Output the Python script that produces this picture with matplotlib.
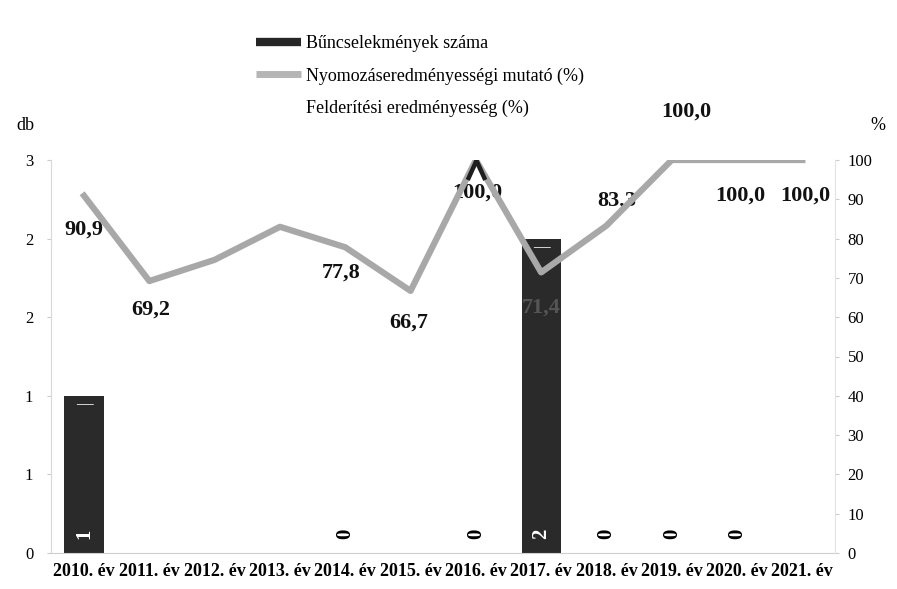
import numpy as np
import matplotlib
matplotlib.use('Agg')
import matplotlib.pyplot as plt
from matplotlib.lines import Line2D
from matplotlib.path import Path
from matplotlib.ticker import FixedLocator, FuncFormatter

# ---------------- data ----------------
years = ['2010. év', '2011. év', '2012. év', '2013. év', '2014. év', '2015. év',
         '2016. év', '2017. év', '2018. év', '2019. év', '2020. év', '2021. év']
crimes = [1, None, None, None, 0, None, 0, 2, 0, 0, 0, None]           # Bűncselekmények száma (db)
nyomozas = [90.9, 69.2, 74.6, 83.0, 77.8, 66.7, 100.0, 71.4, 83.3, 100.0, 100.0, 100.0]  # %
nyomozas_labels = ['90,9', '69,2', '', '', '77,8', '66,7', '100,0', '71,4', '83,3',
                   '100,0', '100,0', '100,0']
felderites = [None, None, None, None, None, None, 100.0, None, None, None, None, None]  # %
left_ticks = [0, 0.5, 1.0, 1.5, 2.0, 2.5]
right_ticks = [0, 10, 20, 30, 40, 50, 60, 70, 80, 90, 100]
series_names = ['Bűncselekmények száma', 'Nyomozáseredményességi mutató (%)',
                'Felderítési eredményesség (%)']

# label offsets in pixels (dx, dy) relative to the line point
label_offsets = [(0, -34), (1, -29), (0, 0), (0, 0), (-4, -25), (-2, -32), (1, -33),
                 (0, -35), (10, 25), (15, 48), (3, -36), (3, -36)]
label_colors = ['#111111'] * 7 + ['#555555'] + ['#111111'] * 4

plt.rcParams['font.family'] = ['Liberation Serif', 'DejaVu Serif']

W, H = 897, 589
fig = plt.figure(figsize=(W / 100, H / 100), dpi=100)
ax = fig.add_axes([51.4 / W, 1 - 553 / H, (835 - 51.4) / W, (553 - 160) / H])

x = np.arange(len(years))
crimes_arr = np.array([np.nan if v is None else v for v in crimes], dtype=float)
ax.bar(x, crimes_arr, width=0.6, color='#2a2a2a', zorder=2)
for i, v in enumerate(crimes):
    if v is None:
        continue
    ax.annotate(str(v), (x[i], 0), xytext=(0, 14), textcoords='offset points',
                rotation=90, ha='center', va='center', fontsize=15, fontweight='bold',
                color='white' if v > 0 else 'black', zorder=4)
    if v > 0:
        ax.annotate('\u2014', (x[i], v), xytext=(0, -6), textcoords='offset points',
                    ha='center', va='center', fontsize=12, fontweight='bold',
                    color='#f0f0f0', zorder=4)

ax.set_xlim(-0.5, len(years) - 0.5)
ax.set_ylim(0, 2.5)
ax.yaxis.set_major_locator(FixedLocator(left_ticks))
ax.yaxis.set_major_formatter(FuncFormatter(lambda v, p: str(int(np.floor(v + 0.5)))))
ax.set_xticks(x)
ax.set_xticklabels(years, fontweight='bold')
ax.tick_params(axis='x', length=0, pad=7, labelsize=13)
ax.tick_params(axis='y', length=3, color='#cccccc', labelsize=12, pad=10)
for s in ['top', 'right']:
    ax.spines[s].set_visible(False)
ax.spines['left'].set_color('#d9d9d9')
ax.spines['bottom'].set_color('#cfcfcf')
ax.spines['bottom'].set_linestyle((0, (2, 1)))

ax2 = ax.twinx()
ax2.set_ylim(0, 100)
ax2.yaxis.set_major_locator(FixedLocator(right_ticks))
ax2.tick_params(axis='y', length=3, color='#cccccc', labelsize=12, pad=6)
for s in ['top', 'left', 'bottom']:
    ax2.spines[s].set_visible(False)
ax2.spines['right'].set_color('#e3e3e3')

ax2.plot(x, nyomozas, color='#a8a8a8', lw=4.5, solid_joinstyle='round', zorder=3)
felder_arr = np.array([np.nan if v is None else v for v in felderites], dtype=float)
chevron = Path([(-0.45, -1.0), (0, 0), (0.45, -1.0)])
ax2.plot(x, felder_arr, lw=0, marker=chevron, ms=28, mfc='none', mec='#1e1e1e',
         mew=3.2, zorder=4)

for i, (v, lab) in enumerate(zip(nyomozas, nyomozas_labels)):
    if not lab:
        continue
    dx, dy = label_offsets[i]
    ax2.annotate(lab, (x[i], v), xytext=(dx * 0.72, dy * 0.72), textcoords='offset points',
                 ha='center', va='center', fontsize=16, fontweight='bold',
                 color=label_colors[i], zorder=2, annotation_clip=False)

fig.text(25 / W, 1 - 125 / H, 'db', fontsize=13, ha='center', va='center')
fig.text(878 / W, 1 - 126 / H, '%', fontsize=13, ha='center', va='center')

handles = [Line2D([], [], color='#262626', lw=6, solid_capstyle='butt'),
           Line2D([], [], color='#b5b5b5', lw=5, solid_capstyle='butt'),
           Line2D([], [], color='none', lw=0)]
fig.legend(handles, series_names, loc='upper left', bbox_to_anchor=(256 / W, 1 - 35 / H),
           frameon=False, fontsize=13, handlelength=2.5, handletextpad=0.28,
           labelspacing=0.85, borderpad=0, borderaxespad=0)

fig.savefig('out.png', dpi=100, facecolor='white')
